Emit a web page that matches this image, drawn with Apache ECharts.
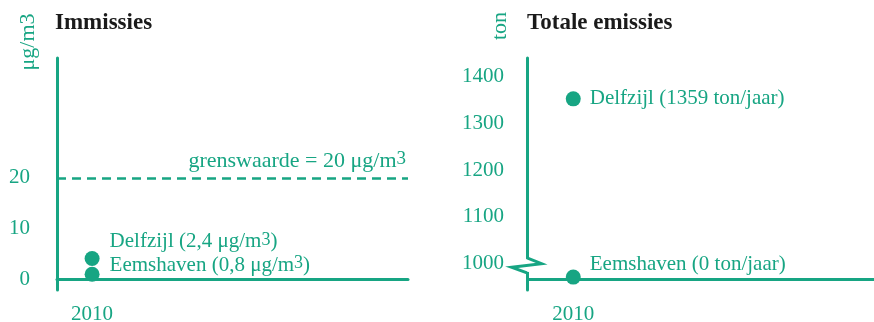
<!DOCTYPE html>
<html><head><meta charset="utf-8">
<script src="https://cdn.jsdelivr.net/npm/echarts@6/dist/echarts.min.js"></script>
<style>html,body{margin:0;padding:0;background:#fff}#c{width:874px;height:322px}</style>
</head><body><div id="c"></div>
<script>
// ---- data ----
const years = [2010];
const stations = ['Delfzijl', 'Eemshaven'];
const immLabelValues = ['2,4', '0,8'];      // µg/m3 as written
const immDotValues = [4.1, 1.0];            // dot positions
const grenswaarde = 20;
const emisLabelValues = [1359, 0];          // ton/jaar
const emisDotValues = [1353, 971];          // dot positions
const immTicks = [0, 10, 20];
const emisTicks = [1000, 1100, 1200, 1300, 1400];
const emisBase = 966;                       // baseline of broken axis
const emisBreak = 996;                      // where the axis break sits

// ---- style ----
const teal = '#17a583';
const serif = '"Liberation Serif", "DejaVu Serif", serif';
const sup = { fontSize: 18, fontFamily: serif, color: teal, verticalAlign: 'top' };
const lblStyle = { color: teal, fontFamily: serif, fontSize: 21, rich: { sup: sup } };

const chart = echarts.init(document.getElementById('c'), null, { renderer: 'canvas' });

const option = {
  animation: false,
  backgroundColor: '#fff',
  title: [
    { text: 'Immissies', left: 55, top: 12, padding: 0, textStyle: { fontFamily: serif, fontSize: 23, fontWeight: 'bold', color: '#1a1a1a' } },
    { text: 'Totale emissies', left: 527, top: 12, padding: 0, textStyle: { fontFamily: serif, fontSize: 23, fontWeight: 'bold', color: '#1a1a1a' } }
  ],
  grid: [
    { left: 57, right: 466, top: 58, bottom: 32, containLabel: false, outerBoundsMode: 'none' },
    { left: 527, right: 0, top: 58, bottom: 32, containLabel: false, outerBoundsMode: 'none' }
  ],
  xAxis: [
    {
      gridIndex: 0, type: 'value', min: 2009, max: 2019,
      axisLine: { show: true, onZero: true, lineStyle: { color: teal, width: 3 } },
      axisTick: { show: false }, splitLine: { show: false },
      axisLabel: { customValues: years, formatter: v => String(v), color: teal, fontFamily: serif, fontSize: 21, margin: 14 }
    },
    {
      gridIndex: 1, type: 'value', min: 2008, max: 2023,
      axisLine: { show: false }, axisTick: { show: false }, splitLine: { show: false },
      axisLabel: { customValues: years, formatter: v => String(v), color: teal, fontFamily: serif, fontSize: 21, margin: 14 }
    }
  ],
  yAxis: [
    {
      gridIndex: 0, type: 'value', min: -2.1, max: 43.6,
      axisLine: { show: true, lineStyle: { color: teal, width: 3 } },
      axisTick: { show: false }, splitLine: { show: false },
      axisLabel: { customValues: immTicks, formatter: v => String(v), color: teal, fontFamily: serif, fontSize: 21, margin: 27 }
    },
    {
      gridIndex: 1, type: 'value', min: 943.4, max: 1440.5,
      axisLine: { show: true, lineStyle: { color: teal, width: 3 } },
      axisTick: { show: false }, splitLine: { show: false },
      axisLabel: { customValues: emisTicks, formatter: v => String(v), color: teal, fontFamily: serif, fontSize: 21, margin: 23 }
    }
  ],
  series: [
    {
      type: 'scatter', xAxisIndex: 0, yAxisIndex: 0, symbolSize: 15,
      itemStyle: { color: teal, opacity: 1 },
      label: Object.assign({ show: true, position: 'right', distance: 10 }, lblStyle),
      data: stations.map((s, i) => ({
        value: [years[0], immDotValues[i]],
        label: {
          formatter: s + ' (' + immLabelValues[i] + ' μg/m{sup|3})',
          offset: i === 0 ? [0, -17] : [0, -9]
        }
      })),
      markLine: {
        silent: true, symbol: ['none', 'none'],
        lineStyle: { color: teal, width: 2.5, type: [9, 6] },
        label: { show: true, position: 'insideEndTop', distance: 6, offset: [4, 0],
          color: teal, fontFamily: serif, fontSize: 22,
          rich: { sup: { fontSize: 19, fontFamily: serif, color: teal, verticalAlign: 'top' } },
          formatter: 'grenswaarde = ' + grenswaarde + ' μg/m{sup|3}' },
        data: [{ yAxis: grenswaarde }]
      }
    },
    {
      type: 'scatter', xAxisIndex: 1, yAxisIndex: 1, symbolSize: 15,
      itemStyle: { color: teal, opacity: 1 },
      label: Object.assign({ show: true, position: 'right', distance: 9 }, lblStyle),
      data: stations.map((s, i) => ({
        value: [years[0], emisDotValues[i]],
        label: {
          formatter: s + ' (' + emisLabelValues[i] + ' ton/jaar)',
          offset: i === 0 ? [0, 0] : [0, -13]
        }
      })),
      markLine: {
        silent: true, symbol: ['none', 'none'],
        lineStyle: { color: teal, width: 3, type: 'solid' },
        label: { show: false },
        data: [{ yAxis: emisBase }]
      }
    }
  ],
  graphic: [
    { id: 'u1', type: 'text', x: 28, y: 42, rotation: Math.PI / 2,
      style: { text: 'μg/m3', fontSize: 22, fontFamily: serif, fill: teal, textAlign: 'center', textVerticalAlign: 'middle' } },
    { id: 'u2', type: 'text', x: 500, y: 26, rotation: Math.PI / 2,
      style: { text: 'ton', fontSize: 22, fontFamily: serif, fill: teal, textAlign: 'center', textVerticalAlign: 'middle' } }
  ]
};
chart.setOption(option);

// axis break symbol on the right y axis
const bx = chart.convertToPixel({ gridIndex: 1 }, [2008, emisBreak]);
const ax = bx[0], ay = bx[1];
chart.setOption({
  graphic: [
    { id: 'u1' }, { id: 'u2' },
    { id: 'gap', type: 'rect', z: 100, shape: { x: ax - 3, y: ay - 6.5, width: 6, height: 13 }, style: { fill: '#fff' } },
    { id: 'zig', type: 'polyline', z: 101,
      shape: { points: [[ax, ay - 7.5], [ax + 14.5, ay - 1.8], [ax - 15.5, ay + 1.8], [ax, ay + 7.5]] },
      style: { stroke: teal, lineWidth: 3, fill: null, lineJoin: 'miter' } }
  ]
});
</script>
</body></html>
